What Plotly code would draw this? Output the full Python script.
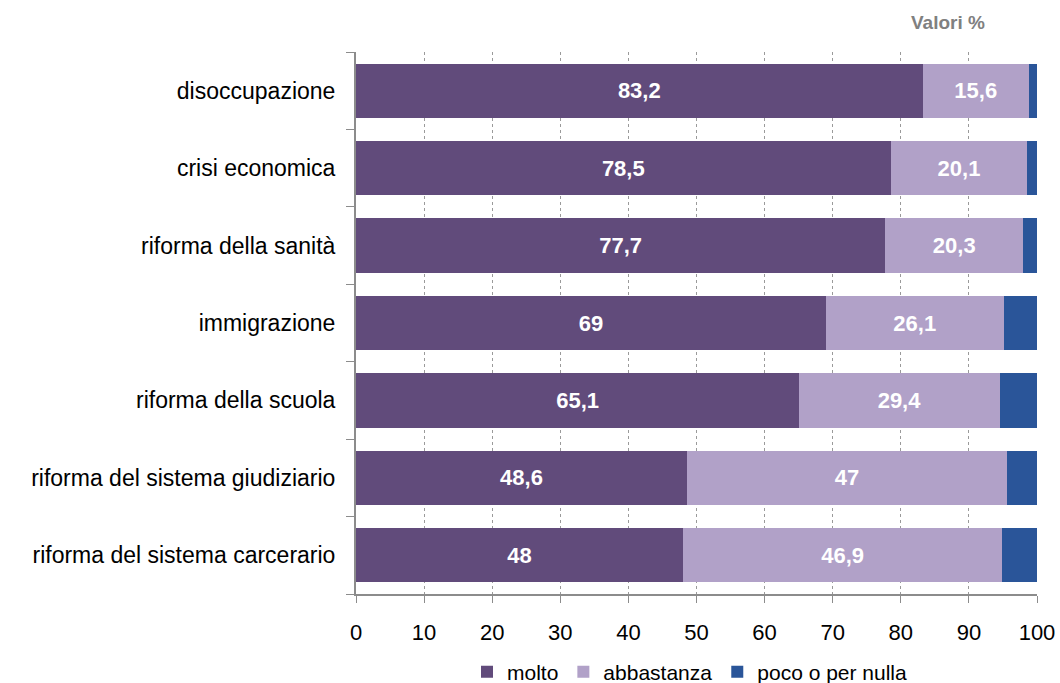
import plotly.graph_objects as go

categories = ["disoccupazione", "crisi economica", "riforma della sanità", "immigrazione",
              "riforma della scuola", "riforma del sistema giudiziario", "riforma del sistema carcerario"]
molto = [83.2, 78.5, 77.7, 69, 65.1, 48.6, 48]
abbastanza = [15.6, 20.1, 20.3, 26.1, 29.4, 47, 46.9]
poco = [1.2, 1.4, 2.0, 4.9, 5.5, 4.4, 5.1]
series_names = ["molto", "abbastanza", "poco o per nulla"]
colors = ["#614B7B", "#B1A1C8", "#2A5599"]
x_ticks = [0, 10, 20, 30, 40, 50, 60, 70, 80, 90, 100]

def fmt(v):
    return ("%g" % v).replace(".", ",")

W, H = 1060, 683
PL, PR, PT, PB = 356, 1037, 52, 594  # plot area in page pixels
L, R, T, B = PL, W - PR, PT, H - PB
pw, ph = W - L - R, H - T - B

fig = go.Figure()
for name, vals, col, show in zip(series_names, [molto, abbastanza, poco], colors, [True, True, False]):
    fig.add_trace(go.Bar(
        y=categories, x=vals, name=name, orientation="h",
        marker=dict(color=col, line=dict(width=0)),
        text=[fmt(v) for v in vals] if show else None,
        textposition="inside" if show else "none",
        insidetextanchor="middle",
        textfont=dict(color="white", size=22, family="Liberation Sans, Arial", weight="bold"),
        hoverinfo="x+name",
    ))

fig.update_layout(
    barmode="stack",
    bargap=0.3,
    width=W, height=H,
    margin=dict(l=L, r=R, t=T, b=B, autoexpand=False),
    plot_bgcolor="white", paper_bgcolor="white",
    font=dict(family="Liberation Sans, Arial", color="black"),
    legend=dict(orientation="h", x=(467 - PL) / pw, xanchor="left",
                y=-(672 - PB) / ph, yanchor="middle",
                font=dict(size=21), traceorder="normal", itemwidth=30),
    xaxis=dict(range=[0, 100], tickvals=x_ticks, ticktext=[str(t) for t in x_ticks],
               showgrid=True, gridcolor="#9A9A9A", griddash="dot", gridwidth=1,
               showline=True, linecolor="#8C8C8C", linewidth=2,
               ticks="outside", ticklen=7, tickcolor="#8C8C8C",
               ticklabelstandoff=11,
               tickfont=dict(size=22), zeroline=False, fixedrange=True, automargin=False),
    yaxis=dict(categoryorder="array", categoryarray=categories[::-1],
               showline=True, linecolor="#8C8C8C", linewidth=2,
               ticks="outside", tickson="boundaries", ticklen=8, tickcolor="#8C8C8C",
               ticklabelstandoff=14,
               tickfont=dict(size=23), showgrid=False, fixedrange=True, automargin=False),
    annotations=[dict(text="<b>Valori %</b>", x=(948 - PL) / pw, y=1 + (PT - 22) / ph,
                      xref="paper", yref="paper", xanchor="center", yanchor="middle",
                      showarrow=False, font=dict(size=19, color="#808080"))],
)

fig.write_html("out.html", config={"displayModeBar": False},
               post_script="document.body.style.margin='0';document.body.style.overflow='hidden';")
